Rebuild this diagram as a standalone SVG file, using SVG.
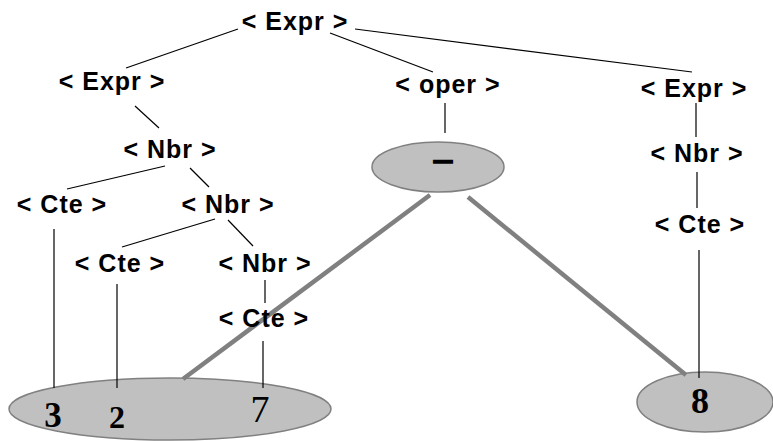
<svg xmlns="http://www.w3.org/2000/svg" width="773" height="441" viewBox="0 0 773 441">
<style>
.lbl{font-family:"Liberation Sans",Arial,sans-serif;font-size:25px;font-weight:bold;fill:#000;text-anchor:middle;letter-spacing:1px}
.dig{font-family:"Liberation Serif","Times New Roman",serif;font-weight:bold;fill:#000;text-anchor:middle}
.ell{fill:#c0c0c0;stroke:#808080;stroke-width:1.5}
.thin{stroke:#000;stroke-width:1.2;fill:none}
.thick{stroke:#808080;stroke-width:4.5;fill:none}
</style>
<rect width="773" height="441" fill="#fff"/>
<g id="ell-minus"><ellipse class="ell" cx="438" cy="167" rx="66" ry="25"/><text class="dig" x="443" y="170" style="font-size:36px;stroke:#000;stroke-width:1.6">–</text></g>
<g id="ell-372"><ellipse class="ell" cx="170" cy="409" rx="161" ry="31"/>
<text class="dig" x="53" y="427" style="font-size:35px">3</text><text class="dig" x="117" y="428" style="font-size:32px">2</text><text class="dig" x="260" y="422" style="font-size:38px;font-weight:normal">7</text></g>
<g id="ell-8"><ellipse class="ell" cx="705" cy="402" rx="68" ry="30"/><text class="dig" x="700" y="413" style="font-size:36px">8</text></g>
<g id="connectors">
<line class="thin" x1="238" y1="29" x2="126" y2="68"/>
<line class="thin" x1="330" y1="33" x2="433" y2="72"/>
<line class="thin" x1="355" y1="29" x2="692" y2="72"/>
<line class="thin" x1="135" y1="106" x2="159" y2="128"/>
<line class="thin" x1="445" y1="103" x2="445" y2="133"/>
<line class="thin" x1="696" y1="103" x2="696" y2="137"/>
<line class="thin" x1="697" y1="172" x2="697" y2="208"/>
<line class="thin" x1="699" y1="250" x2="699" y2="378"/>
<line class="thin" x1="165" y1="166" x2="67" y2="189"/>
<line class="thin" x1="190" y1="168" x2="209" y2="187"/>
<line class="thin" x1="215" y1="219" x2="122" y2="247"/>
<line class="thin" x1="228" y1="220" x2="253" y2="246"/>
<line class="thin" x1="54" y1="229" x2="54" y2="388"/>
<line class="thin" x1="117" y1="284" x2="117" y2="388"/>
<line class="thin" x1="265" y1="280" x2="265" y2="303"/>
<line class="thin" x1="263" y1="341" x2="263" y2="388"/>
<line class="thick" x1="430" y1="195" x2="183" y2="379"/>
<line class="thick" x1="468" y1="197" x2="686" y2="375"/>
</g>
<g id="n-expr-root"><text class="lbl" x="295" y="30">&lt; Expr &gt;</text></g>
<g id="n-expr-left"><text class="lbl" x="112" y="90">&lt; Expr &gt;</text></g>
<g id="n-oper"><text class="lbl" x="448" y="93">&lt; oper &gt;</text></g>
<g id="n-expr-right"><text class="lbl" x="694" y="97">&lt; Expr &gt;</text></g>
<g id="n-nbr-right"><text class="lbl" x="697" y="162">&lt; Nbr &gt;</text></g>
<g id="n-cte-right"><text class="lbl" x="700" y="233">&lt; Cte &gt;</text></g>
<g id="n-nbr1"><text class="lbl" x="170" y="158">&lt; Nbr &gt;</text></g>
<g id="n-cte1"><text class="lbl" x="62" y="213">&lt; Cte &gt;</text></g>
<g id="n-nbr2"><text class="lbl" x="228" y="213">&lt; Nbr &gt;</text></g>
<g id="n-cte2"><text class="lbl" x="120" y="272">&lt; Cte &gt;</text></g>
<g id="n-nbr3"><text class="lbl" x="265" y="272">&lt; Nbr &gt;</text></g>
<g id="n-cte3"><text class="lbl" x="264" y="327">&lt; Cte &gt;</text></g>
</svg>
